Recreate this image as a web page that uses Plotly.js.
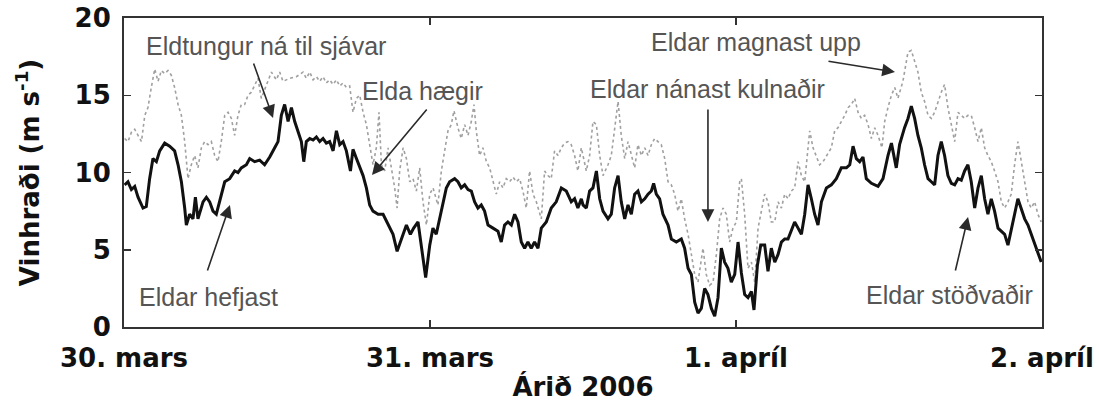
<!DOCTYPE html>
<html>
<head>
<meta charset="utf-8">
<script src="https://cdn.plot.ly/plotly-3.0.1.min.js"></script>
<style>html,body{margin:0;padding:0;background:#fff;}#chart{width:1099px;height:403px;}</style>
</head>
<body>
<div id="chart"></div>
<script>
// Time in hours since 30. mars 00:00
const blackHours = [0.05,0.31,0.58,0.84,1.1,1.49,1.75,2.01,2.27,2.54,2.8,3.19,3.58,3.97,4.24,4.5,4.76,4.89,5.15,5.41,5.6,5.8,6.2,6.46,6.72,6.98,7.24,7.5,7.9,8.29,8.68,8.94,9.2,9.6,9.86,10.25,10.64,11.03,11.43,11.82,12.08,
12.34,12.6,12.87,13.13,13.39,13.65,13.91,14.1,14.3,14.57,14.83,15.09,15.35,15.61,15.87,16.13,16.4,16.66,16.92,17.18,17.44,17.76,17.96,18.23,18.49,18.75,19.01,19.27,19.53,19.93,20.32,20.71,21.1,21.42,21.76,22.15,22.46,22.72,23.06,23.32,23.66,23.98,
24.23,24.49,24.76,25.02,25.28,25.54,25.93,26.19,26.45,26.72,26.98,27.24,27.5,27.76,28.02,28.28,28.55,28.94,29.33,29.59,29.85,30.11,30.38,30.64,30.9,31.16,31.42,31.68,31.94,32.2,32.47,32.73,33.12,33.51,33.9,34.3,34.69,35.08,35.34,35.6,35.87,
36.0,36.26,36.52,36.78,37.05,37.31,37.57,37.96,38.22,38.48,38.75,39.0,39.27,39.53,39.79,40.05,40.31,40.58,40.84,41.1,41.36,41.54,41.75,42.01,42.27,42.67,42.93,43.32,43.71,43.97,44.24,44.5,44.76,45.02,45.28,45.54,45.8,46.07,46.33,46.59,46.85,47.11,47.37,47.63,47.9,
48.16,48.42,48.68,48.94,49.21,49.41,49.68,49.94,50.25,50.51,50.77,51.04,51.3,51.56,51.82,52.08,52.34,52.6,52.87,53.13,53.39,53.65,53.91,54.17,54.43,54.7,55.09,55.48,55.87,56.26,56.66,56.92,57.18,57.44,57.7,57.96,58.22,58.62,59.14,59.53,59.92,60.19,
60.57,60.83,61.22,61.49,61.75,62.01,62.27,62.53,62.79,63.06,63.32,63.58,63.84,64.1,64.36,64.62,64.89,65.15,65.41,65.67,65.93,66.19,66.45,66.72,66.98,67.24,67.5,67.76,68.02,68.28,68.55,68.81,69.07,69.33,69.59,69.85,70.11,70.38,70.64,70.9,71.16,71.42,71.68,71.94];
const blackWind = [9.2,9.4,8.9,9.1,8.4,7.7,7.8,9.6,10.9,10.7,11.4,11.9,11.7,11.4,10.5,9.4,7.7,6.6,7.3,7.0,8.4,7.0,8.1,8.4,8.1,7.5,7.3,8.1,9.4,9.6,10.1,10.0,10.3,10.5,10.9,10.7,10.8,10.5,11.0,11.6,12.0,
13.7,14.4,13.3,14.2,13.3,12.7,12.0,10.7,12.0,12.2,12.1,12.3,12.0,12.2,11.9,12.0,11.4,12.7,11.8,12.0,11.4,10.1,11.5,10.9,10.3,9.8,9.0,7.9,7.5,7.3,7.3,6.7,6.0,4.9,5.7,6.6,6.0,6.4,6.8,5.3,3.2,5.3,
6.4,6.0,7.0,8.1,9.0,9.4,9.6,9.4,9.0,9.2,8.9,8.8,8.1,7.7,7.9,7.5,6.6,6.4,6.2,5.5,6.6,6.8,6.6,7.3,6.8,5.5,5.1,5.5,5.1,5.5,5.1,6.4,6.8,7.7,8.1,9.0,8.8,8.1,8.3,7.7,8.3,
7.9,7.7,8.8,9.0,10.1,8.3,7.5,7.0,7.3,9.0,9.8,8.1,7.0,7.9,7.3,8.6,8.8,8.1,8.3,8.6,8.8,9.3,8.6,8.3,7.3,6.6,5.7,5.5,5.7,5.1,3.8,3.4,1.6,0.9,1.2,2.5,2.1,1.2,0.7,1.9,5.1,4.2,3.8,2.9,3.4,
5.5,3.5,2.1,1.9,2.3,1.1,4.0,5.3,5.3,3.6,5.1,4.2,4.7,5.5,5.7,5.7,6.2,6.8,6.4,6.0,7.3,9.2,8.3,7.3,6.6,8.1,9.0,9.2,9.6,10.3,10.3,10.5,11.7,10.9,10.7,11.0,9.6,9.3,9.1,9.6,11.1,11.9,
10.3,11.8,12.9,13.5,14.3,13.5,12.4,11.6,10.5,9.6,9.4,9.2,11.1,12.0,11.1,9.8,9.3,9.2,9.6,9.5,10.1,10.5,9.4,7.7,9.0,9.8,8.3,7.3,8.3,7.5,6.4,6.2,6.0,5.3,6.2,7.3,8.3,7.7,7.0,6.6,6.0,5.5,4.9,4.2];

const grayHours = [0.05,0.31,0.58,0.84,1.1,1.37,1.63,1.88,2.14,2.41,2.67,2.93,3.19,3.45,3.71,3.97,4.24,4.5,4.76,5.02,5.28,5.54,5.8,6.07,6.33,6.59,6.85,7.11,7.37,7.63,7.9,8.16,8.42,8.68,8.94,9.2,9.46,9.73,9.99,10.25,10.51,10.77,11.16,11.56,11.95,
12.21,12.47,13.0,13.52,14.04,14.3,14.57,14.83,15.09,15.35,15.61,15.87,16.13,16.4,16.66,16.92,17.18,17.44,17.7,17.96,18.23,18.49,18.75,19.01,19.27,19.53,19.79,20.0,20.19,20.45,20.71,20.97,21.23,21.42,21.62,21.89,22.15,22.41,22.67,22.93,23.19,23.45,23.72,23.98,
24.24,24.62,24.89,25.15,25.41,25.67,25.88,26.19,26.45,26.72,26.98,27.24,27.45,27.63,27.89,28.15,28.42,28.68,28.94,29.2,29.46,29.72,29.98,30.25,30.51,30.77,31.03,31.29,31.55,31.81,32.08,32.34,32.73,32.99,33.25,33.51,33.77,34.04,34.3,34.56,34.82,35.08,35.34,35.6,35.87,
36.26,36.52,36.78,37.05,37.31,37.57,37.96,38.22,38.48,38.75,39.0,39.27,39.53,39.79,40.05,40.31,40.58,40.84,41.1,41.36,41.62,41.88,42.14,42.41,42.67,42.93,43.19,43.45,43.71,43.97,44.24,44.5,44.76,45.02,45.41,45.67,45.93,46.2,46.46,46.72,46.98,47.24,47.5,47.76,48.03,
48.29,48.42,48.68,48.94,49.21,49.47,49.73,49.99,50.25,50.51,50.77,51.04,51.3,51.56,51.82,52.08,52.34,52.6,52.87,53.13,53.39,53.65,53.78,54.04,54.3,54.56,54.83,55.09,55.48,55.74,56.0,56.26,56.53,56.79,57.05,57.31,57.57,57.83,58.09,58.36,58.62,58.88,59.14,59.45,59.66,59.92,60.19,
60.45,60.7,61.09,61.49,61.75,62.01,62.27,62.53,62.79,63.06,63.32,63.58,63.84,64.1,64.36,64.62,64.89,65.15,65.41,65.67,65.93,66.19,66.45,66.72,66.98,67.24,67.5,67.76,68.02,68.28,68.55,68.81,69.07,69.33,69.59,69.85,70.11,70.38,70.64,70.9,71.16,71.42,71.68,71.94];
const grayWind = [12.2,12.0,12.6,12.8,12.4,12.0,13.7,14.2,15.5,16.7,15.9,16.6,16.4,16.6,16.3,15.5,14.4,13.7,12.0,9.6,10.5,11.1,10.3,11.6,12.0,11.8,12.0,11.1,10.7,12.0,13.7,13.9,13.5,12.4,13.7,14.4,14.4,15.0,15.2,15.7,16.1,14.8,15.7,16.5,16.0,
16.5,15.9,16.1,16.2,16.5,16.1,16.5,16.0,16.2,15.9,16.2,15.8,16.0,15.7,16.0,15.6,15.8,15.5,15.6,13.9,14.8,15.0,13.9,13.1,11.8,10.5,11.6,13.9,10.5,10.1,11.6,10.3,9.0,7.7,10.1,11.6,10.9,9.4,9.6,8.8,10.3,8.1,6.6,8.6,
9.0,7.9,10.1,11.4,12.7,13.1,14.0,12.9,12.2,13.1,12.4,13.3,14.4,12.7,11.1,11.6,10.7,10.3,9.4,8.6,9.4,9.0,9.6,9.4,9.7,9.4,9.6,8.8,7.7,10.1,8.6,8.1,7.0,10.1,9.8,9.6,11.4,11.1,11.6,11.9,12.0,11.8,11.1,10.1,11.6,
10.1,11.1,13.3,13.1,11.1,9.8,10.5,11.1,12.7,14.6,12.4,10.9,12.0,11.1,10.3,11.8,11.1,11.6,11.1,11.8,12.2,12.0,11.8,10.9,9.4,9.2,8.6,7.5,8.3,7.0,6.0,4.7,3.4,2.9,5.1,3.4,2.7,2.9,4.7,7.0,7.7,7.3,5.5,6.4,6.8,
9.4,9.6,7.3,3.8,4.2,2.9,6.4,7.5,8.6,8.1,6.8,6.8,8.1,7.7,8.6,8.3,8.8,9.0,10.7,9.8,9.4,11.6,12.7,11.6,11.1,10.5,10.7,11.1,11.6,12.7,12.9,13.3,13.7,14.2,14.4,14.8,13.9,13.5,13.7,13.1,12.2,12.9,12.4,11.6,13.3,14.2,15.0,
15.5,14.8,15.9,17.8,17.9,17.2,16.5,15.2,14.6,13.7,13.5,13.9,14.6,15.2,15.7,14.2,13.1,12.0,13.9,13.7,13.5,13.7,13.7,12.9,12.0,12.9,11.6,11.1,10.7,10.1,9.4,8.1,7.7,8.1,8.6,10.5,12.0,10.7,9.4,8.1,7.7,8.1,7.3,6.8];

const dayTicks = [0, 24, 48, 72];
const dayLabels = ['30. mars', '31. mars', '1. apríl', '2. apríl'];
const yTicks = [0, 5, 10, 15, 20];

// Annotation texts, their centres, and the data points their arrows point at
const noteTexts = ['Eldtungur ná til sjávar', 'Elda hægir', 'Eldar nánast kulnaðir', 'Eldar magnast upp', 'Eldar hefjast', 'Eldar stöðvaðir'];
const noteTextHours = [11.14, 23.45, 45.8, 49.57, 6.63, 64.78];
const noteTextWind = [18.2, 15.27, 15.4, 18.45, 1.94, 2.07];
const noteHeadHours = [11.69, 19.45, 45.8, 60.47, 8.31, 66.2];
const noteHeadWind = [13.53, 9.84, 6.8, 16.5, 7.9, 7.12];

const noteFont = {family: 'Liberation Sans, Arial, sans-serif', size: 25, color: '#555555'};
const boldFont = {family: 'DejaVu Sans, sans-serif', size: 26, color: '#111111', weight: 'bold'};

// pixel offsets of each arrow tail from its arrow head
const tailOffsets = [[-20, -56], [56, -67], [0, -114], [-68, -11], [-23, 67], [-13, 55]];

const traces = [
  {x: grayHours, y: grayWind, type: 'scatter', mode: 'lines',
   line: {color: '#a0a0a0', width: 1.6, dash: 'dot'}, hoverinfo: 'skip'},
  {x: blackHours, y: blackWind, type: 'scatter', mode: 'lines',
   line: {color: '#111111', width: 3}, hoverinfo: 'skip'}
];

const annotations = [];
noteTexts.forEach((t, i) => {
  annotations.push({
    text: t, x: noteTextHours[i], y: noteTextWind[i], xref: 'x', yref: 'y',
    showarrow: false, font: noteFont, xanchor: 'center', yanchor: 'middle'
  });
  annotations.push({
    text: '', x: noteHeadHours[i], y: noteHeadWind[i], xref: 'x', yref: 'y',
    ax: tailOffsets[i][0], ay: tailOffsets[i][1], axref: 'pixel', ayref: 'pixel',
    showarrow: true, arrowhead: 2, arrowsize: 1.6, arrowwidth: 1.6, arrowcolor: '#2a2a2a', standoff: 0
  });
});

const layout = {
  width: 1099, height: 403,
  margin: {l: 124, r: 57, t: 18, b: 76},
  paper_bgcolor: '#ffffff', plot_bgcolor: '#ffffff',
  showlegend: false,
  xaxis: {
    range: [0, 72], tickvals: dayTicks, ticktext: dayLabels,
    ticks: 'inside', ticklen: 7, tickwidth: 1.5, tickcolor: '#333',
    showline: true, linecolor: '#333', linewidth: 2, mirror: 'ticks',
    showgrid: false, zeroline: false,
    tickfont: boldFont, ticklabelstandoff: 7,
    title: {text: 'Árið 2006', font: boldFont, standoff: 6},
    automargin: false, fixedrange: true
  },
  yaxis: {
    range: [0, 20], tickvals: yTicks,
    ticks: 'inside', ticklen: 7, tickwidth: 1.5, tickcolor: '#333',
    showline: true, linecolor: '#333', linewidth: 2, mirror: 'ticks',
    showgrid: false, zeroline: false,
    tickfont: boldFont, ticklabelstandoff: 6,
    title: {text: 'Vinhraði (m s<sup>-1</sup>)', font: boldFont, standoff: 28},
    automargin: false, fixedrange: true
  },
  annotations: annotations
};

Plotly.newPlot('chart', traces, layout, {staticPlot: true, displayModeBar: false});
</script>
</body>
</html>
